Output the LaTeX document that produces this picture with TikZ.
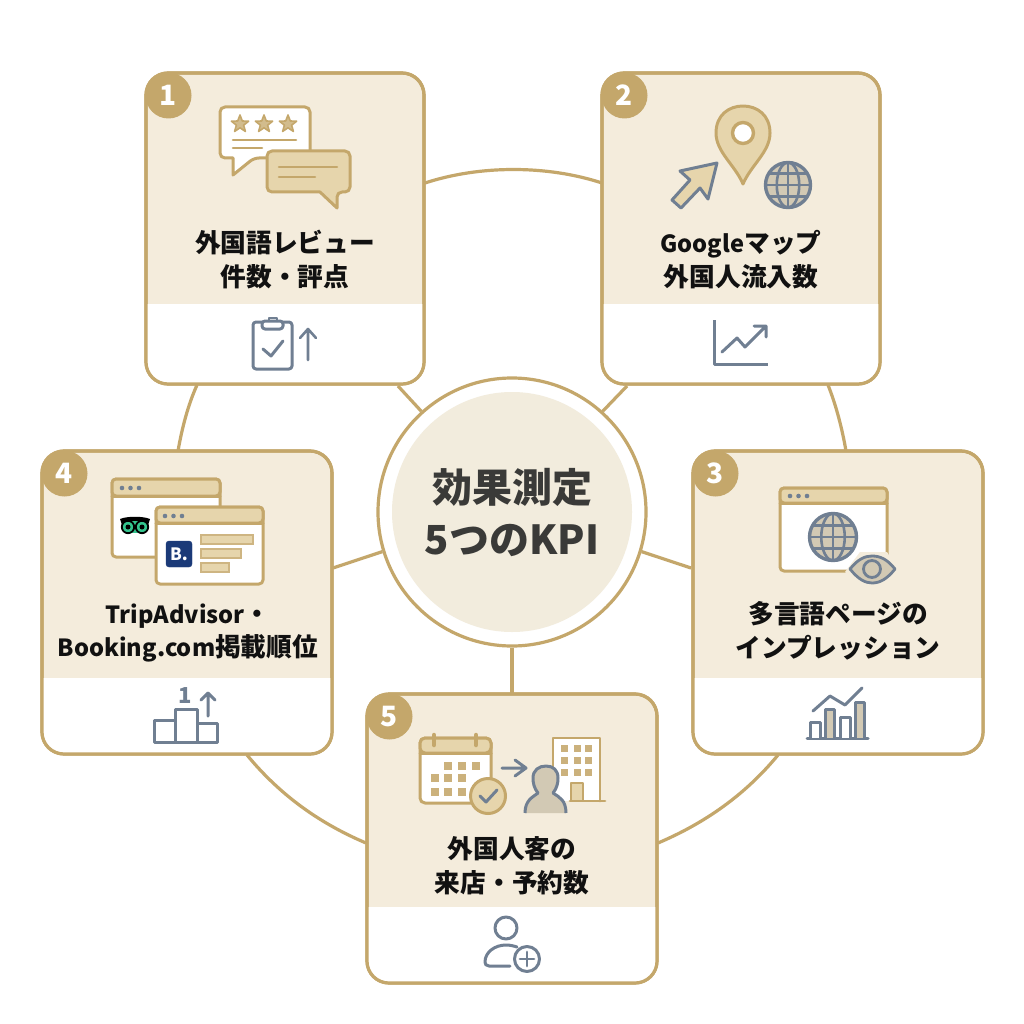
\documentclass[tikz,border=0pt]{standalone}
\usepackage{fontspec}
\setmainfont{Noto Sans CJK JP}
\definecolor{gold}{HTML}{C4A76B}
\definecolor{cream}{HTML}{F4ECDC}
\definecolor{hubcream}{HTML}{F2ECDD}
\definecolor{tan}{HTML}{E6D5AC}
\definecolor{slate}{HTML}{707F92}
\definecolor{globefill}{HTML}{D2C9B4}
\definecolor{inkb}{HTML}{111111}
\definecolor{hubink}{HTML}{3A3A38}
\definecolor{navy}{HTML}{1B3A78}
\definecolor{owl}{HTML}{34C48E}
\newcommand{\latn}[1]{{\fontsize{23.6}{33.6}\selectfont #1}}
\tikzset{
  x=1pt,y=-1pt,
  link/.style={draw=gold,line width=3.2pt},
  cardbox/.style={rectangle,rounded corners=22pt,draw=gold,line width=3.2pt,inner sep=0pt},
  cardlabel/.style={font=\fontsize{25.7}{33.6}\selectfont\bfseries,text=inkb,align=center,inner sep=0pt},
  badge/.style={circle,fill=gold,minimum size=46pt,inner sep=0pt,text=white,font=\fontsize{28}{28}\selectfont\bfseries},
  goldline/.style={draw=gold,line width=2.6pt,line cap=round,line join=round},
  thingold/.style={draw=gold,line width=2.6pt,line cap=round},
  slateline/.style={draw=slate,line width=3pt,line cap=round,line join=round},
  winsq/.style={fill=gold!85!cream},
}
\newcommand{\cardshape}[7]{% name x1 y1 x2 y2 band number
  \node[cardbox,fill=cream,minimum width=#4-#2,minimum height=#5-#3] (#1) at ({(#2+#4)/2},{(#3+#5)/2}) {};
  \begin{scope}
    \clip[rounded corners=22pt] (#2,#3) rectangle (#4,#5);
    \fill[white] (#2,#6) rectangle (#4,#5);
  \end{scope}
  \draw[gold,line width=3.2pt,rounded corners=22pt] (#2,#3) rectangle (#4,#5);
  \node[badge] (b#1) at (#2+22.5,#3+22.5) {\raisebox{-1.5pt}{#7}};
}
\newcommand{\globeicon}[4]{% x y r fill
  \begin{scope}[shift={(#1,#2)}]
    \filldraw[fill=#4,draw=slate,line width=3.4pt] (0,0) circle[radius=#3];
    \draw[slate,line width=2.6pt] (0,0) ellipse[x radius=0.5*#3,y radius=#3];
    \draw[slate,line width=2.6pt] (0,-#3)--(0,#3) (-#3,0)--(#3,0)
      ({-0.85*#3},{-0.5*#3})--({0.85*#3},{-0.5*#3}) ({-0.85*#3},{0.5*#3})--({0.85*#3},{0.5*#3});
  \end{scope}
}
\newcommand{\staricon}[2]{%
  \filldraw[fill=gold!70!cream,draw=gold,line width=1.6pt,line join=round,shift={(#1,#2)}]
   (0,-9)--(2.3,-3)--(8.6,-2.8)--(3.6,1.2)--(5.4,7.4)--(0,3.8)--(-5.4,7.4)--(-3.6,1.2)--(-8.6,-2.8)--(-2.3,-3)--cycle;
}
\newcommand{\windowicon}[7]{% x1 y1 x2 y2 bar dotx dot-y
  \filldraw[fill=white,goldline,line width=3pt,rounded corners=4pt] (#1,#2) rectangle (#3,#4);
  \filldraw[fill=tan,goldline,line width=3pt,rounded corners=4pt] (#1,#5)--(#1,#2)--(#3,#2)--(#3,#5)--cycle;
  \draw[goldline,line width=3pt] (#1,#5)--(#3,#5);
  \fill[slate] (#6,#7) circle[radius=2.3] (#6+8.5,#7) circle[radius=2.3] (#6+17,#7) circle[radius=2.3];
}
\begin{document}
\begin{tikzpicture}
\useasboundingbox (0,0) rectangle (1024,1024);
\fill[white] (0,0) rectangle (1024,1024);

% ring arcs
\coordinate (ra1) at (425,183); \coordinate (ra2) at (602,183);
\coordinate (rb1) at (828,385); \coordinate (rb2) at (846,451);
\coordinate (rc1) at (778,755); \coordinate (rc2) at (658,843);
\coordinate (rd1) at (366,843); \coordinate (rd2) at (247,755);
\coordinate (re1) at (178,451); \coordinate (re2) at (197,385);
\draw[link] (ra1) .. controls (480,165) and (547,165) .. (ra2);
\draw[link] (rb1) .. controls (836,405) and (842,428) .. (rb2);
\draw[link] (rc1) .. controls (745,795) and (705,823) .. (rc2);
\draw[link] (rd1) .. controls (319,823) and (280,795) .. (rd2);
\draw[link] (re1) .. controls (182,428) and (188,405) .. (re2);

% hub
\node[circle,draw=gold,line width=3.2pt,fill=white,minimum size=268pt,inner sep=0pt] (hub) at (512,512) {};
\node[circle,fill=hubcream,minimum size=240pt,inner sep=0pt] (hubin) at (512,512) {};
\node[font=\fontsize{40}{52}\selectfont\bfseries,text=hubink,align=center,inner sep=0pt] (hubt) at (512,513) {効果測定\\5つのKPI};

% spokes
\coordinate (s1) at (398,386); \coordinate (s2) at (627,386);
\coordinate (s3) at (691,568); \coordinate (s4) at (333,568);
\coordinate (s5) at (512,694);
\draw[link] (hub.132) -- (s1);
\draw[link] (hub.48) -- (s2);
\draw[link] (hub.-17) -- (s3);
\draw[link] (hub.197) -- (s4);
\draw[link] (hub.south) -- (s5);

% cards
\cardshape{c1}{146}{73}{424}{384}{304}{1}
\cardshape{c2}{602}{73}{880}{384}{304}{2}
\cardshape{c3}{693}{451}{983}{754}{678}{3}
\cardshape{c4}{42}{451}{332}{754}{678}{4}
\cardshape{c5}{367}{694}{657}{983}{907}{5}

\node[cardlabel] (t1) at (285,259.5) {外国語レビュー\\件数・評点};
\node[cardlabel] (t2) at (741,259.5) {\latn{Google}マップ\\外国人流入数};
\node[cardlabel] (t3) at (838,631) {多言語ページの\\インプレッション};
\node[cardlabel] (t4) at (188,633) {\latn{TripAdvisor}・\\\latn{Booking.com}掲載順位};
\node[cardlabel] (t5) at (512,865.5) {外国人客の\\来店・予約数};

% ---- card 1 icons
\filldraw[fill=white,goldline,line width=3pt,rounded corners=5pt] (220,107)--(310,107)--(310,158)--(254,158)[sharp corners]--(233,175)--(233,158)[rounded corners=5pt]--(220,158)--cycle;
\staricon{240}{124}\staricon{264}{124}\staricon{288}{124}
\draw[thingold] (233,140)--(296,140) (233,148)--(262,148);
\filldraw[fill=tan,goldline,line width=3pt,rounded corners=5pt] (267,151)--(350,151)--(350,192)--(337,192)[sharp corners]--(337,208)--(320,192)[rounded corners=5pt]--(267,192)--cycle;
\draw[thingold] (279,167)--(337,167) (279,177)--(315,177);
% clipboard
\draw[slateline,rounded corners=3pt] (253,322) rectangle (292,369);
\filldraw[fill=white,slateline,rounded corners=3pt] (262,321) rectangle (283,329);
\draw[slateline,line width=2.6pt] (269,321) -- (269,318) -- (277,318) -- (277,321);
\draw[slateline] (263,349)--(271,356)--(283,341);
\draw[slateline,line width=2.6pt] (308,360)--(308,329) (300,338)--(308,329)--(316,338);

% ---- card 2 icons
\filldraw[fill=tan,goldline,line width=3pt] (743,184) .. controls (735,165) and (716,152) .. (716,133) .. controls (716,115) and (729,106) .. (743,106) .. controls (757,106) and (770,115) .. (770,133) .. controls (770,152) and (751,165) .. (743,184) -- cycle;
\filldraw[fill=white,goldline,line width=3.4pt] (743,133) circle[radius=10.5];
\filldraw[fill=tan,draw=slate,line width=3pt,line join=round] (717,163)--(680,171)--(690,180)--(672,200)--(681,208)--(700,188)--(708,199)--cycle;
\globeicon{788}{185}{22.5}{globefill}
\draw[slateline,line cap=butt] (714,320)--(714,364)--(768,364);
\draw[slateline] (722,352)--(737,338)--(745,347)--(765,327) (754,326)--(766,326)--(766,337);

% ---- card 3 icons
\windowicon{780}{488}{887}{571}{503}{790}{496}
\globeicon{833}{537}{23.5}{globefill}
\fill[cream] (845,572) -- (860,552)--(887,552)--(898,570)--(880,587)--(860,587)--cycle;
\filldraw[fill=globefill,slateline,line width=2.8pt] (850,569) .. controls (858,559) and (865,556) .. (872,556) .. controls (880,556) and (887,559) .. (895,569) .. controls (887,579) and (880,583) .. (872,583) .. controls (865,583) and (858,579) .. (850,569) -- cycle;
\draw[slate,line width=2.8pt] (872,569) circle[radius=8.5];
\draw[slateline] (807,738)--(868,738);
\filldraw[fill=white,slateline,line cap=butt] (810,738)--(810,722)--(820,722)--(820,738);
\filldraw[fill=globefill,slateline,line cap=butt] (825,738)--(825,709)--(834,709)--(834,738);
\filldraw[fill=white,slateline,line cap=butt] (840,738)--(840,717)--(850,717)--(850,738);
\filldraw[fill=globefill,slateline,line cap=butt] (855,738)--(855,702)--(864,702)--(864,738);
\draw[slateline] (813,711)--(830,696)--(845,705)--(862,688);

% ---- card 4 icons
\windowicon{112}{479}{220}{557}{496}{122}{488}
% owl
\fill[black] (120,519) .. controls (127,516) and (143,516) .. (150,519) -- (148,525) -- (122,525) -- cycle;
\fill[owl] (124,521) rectangle (146,533);
\filldraw[fill=owl,draw=black,line width=1.8pt] (128,527) circle[radius=6.2] (142,527) circle[radius=6.2];
\fill[black] (128,527) circle[radius=2.5] (142,527) circle[radius=2.5];
\windowicon{156}{507}{263}{584}{523}{165}{516}
\filldraw[fill=navy,draw=navy,rounded corners=3pt] (166,541) rectangle (192,567);
\node[font=\fontsize{17}{17}\selectfont\bfseries,text=white,inner sep=0pt] (bk) at (179,554) {B.};
\filldraw[fill=tan,draw=gold!80!cream,line width=1.6pt] (201,535) rectangle (253,544);
\filldraw[fill=tan,draw=gold!80!cream,line width=1.6pt] (201,549) rectangle (241,558);
\filldraw[fill=tan,draw=gold!80!cream,line width=1.6pt] (201,563) rectangle (229,572);
\draw[slateline,line cap=butt] (154,720) rectangle (175,742);
\draw[slateline] (175,709) rectangle (197,742);
\draw[slateline] (197,723) rectangle (217,742);
\node[font=\fontsize{22}{22}\selectfont\bfseries,text=slate,inner sep=0pt] (pod) at (185,696) {1};
\draw[slateline] (208,716)--(208,693) (201,700)--(208,693)--(215,700);

% ---- card 5 icons
\filldraw[fill=white,goldline,line width=3pt,rounded corners=5pt] (420,738) rectangle (491,803);
\filldraw[fill=tan,goldline,line width=3pt,rounded corners=5pt] (420,753)--(420,738)--(491,738)--(491,753)--cycle;
\draw[goldline,line width=3pt] (420,753)--(491,753);
\draw[gold,line width=4.5pt,line cap=round] (434,735)--(434,745) (476,735)--(476,745);
\foreach \qx/\qy in {448/766,462/766,476/766,435/778,448/778,462/778,435/792,448/792,462/792}
  \fill[winsq] (\qx-4,\qy-4) rectangle (\qx+4,\qy+4);
\filldraw[fill=tan,goldline,line width=3pt] (488,796) circle[radius=17.5];
\draw[slateline] (480,796)--(486,802)--(497,790);
\draw[slateline] (502,768)--(525,768) (515,760)--(526,768)--(515,776);
% building
\fill[white] (553,738) rectangle (600,801);
\draw[goldline,line width=2.8pt] (553,770)--(553,738)--(600,738)--(600,801) (570,801)--(605,801);
\foreach \qx in {564,577,588}\foreach \qy in {748,760,772}
  \fill[winsq] (\qx-3.5,\qy-3.5) rectangle (\qx+3.5,\qy+3.5);
\filldraw[fill=tan,goldline,line width=2.4pt] (571,800)--(571,783)--(583,783)--(583,800);
% person
\filldraw[fill=globefill,slateline,line width=3pt,line cap=butt] (525,813) .. controls (525,800) and (533,797) .. (538,793) .. controls (534,788) and (533,783) .. (533,778) .. controls (533,770) and (539,766) .. (546,766) .. controls (553,766) and (558,770) .. (558,778) .. controls (558,783) and (557,788) .. (553,793) .. controls (559,797) and (566,800) .. (566,813);
% user plus
\draw[slateline] (506,928) circle[radius=11];
\draw[slateline] (510,966)--(489,966) .. controls (486,966) and (485,964) .. (485,962) .. controls (485,952) and (495,945) .. (506,945) .. controls (510,945) and (514,946) .. (517,947);
\filldraw[fill=white,slateline] (527,959) circle[radius=12.5];
\draw[slateline,line width=2.8pt] (520,959)--(534,959) (527,952)--(527,966);
\end{tikzpicture}
\end{document}
